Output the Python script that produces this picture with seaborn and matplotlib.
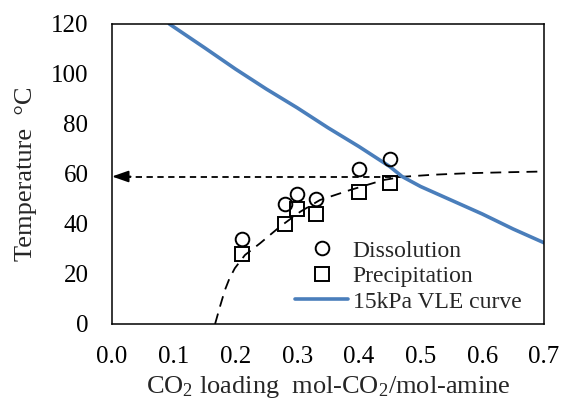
import matplotlib
matplotlib.use("Agg")
import matplotlib.pyplot as plt
import seaborn as sns
import pandas as pd

# ---- data ----
loading_pts = [0.21, 0.28, 0.30, 0.33, 0.40, 0.45]
dissolution_T = [34, 48, 52, 50, 62, 66]
precipitation_T = [28, 40, 46, 44, 53, 56.5]

vle_x = [0.093, 0.15, 0.20, 0.25, 0.30, 0.35, 0.40, 0.45, 0.47, 0.50, 0.55, 0.60, 0.65, 0.70]
vle_T = [120, 110.5, 102, 94, 86.5, 78.5, 71, 63, 59, 55, 49.5, 44, 38, 32.5]

fit_x = [0.167, 0.175, 0.183, 0.19, 0.199, 0.2155, 0.24, 0.272, 0.305, 0.337, 0.386, 0.44, 0.472, 0.52, 0.575, 0.64, 0.70]
fit_T = [0, 7, 13.6, 18, 22.3, 27.6, 32.3, 38.9, 44.9, 49.6, 53.6, 57.6, 58.9, 59.7, 60.3, 60.7, 61]

arrow_x = [0.47, 0.0]
arrow_T = 59

xticks = [0.0, 0.1, 0.2, 0.3, 0.4, 0.5, 0.6, 0.7]
yticks = [0, 20, 40, 60, 80, 100, 120]

sns.set_theme(style="white")
plt.rcParams['font.family'] = ['Liberation Serif', 'DejaVu Serif']
plt.rcParams['mathtext.fontset'] = 'custom'
plt.rcParams['mathtext.rm'] = 'Liberation Serif'
plt.rcParams['mathtext.it'] = 'Liberation Serif:italic'

fig = plt.figure(figsize=(5.63, 4.03), dpi=100)
ax = fig.add_axes([112/563, 1-324/403, 432/563, 300/403])

pts = pd.DataFrame({"x": loading_pts, "d": dissolution_T, "p": precipitation_T})
vle = pd.DataFrame({"x": vle_x, "T": vle_T})
fit = pd.DataFrame({"x": fit_x, "T": fit_T})

# fitted dashed curve
sns.lineplot(data=fit, x="x", y="T", ax=ax, color="black", lw=1.3, sort=False,
             legend=False)
ax.lines[-1].set_dashes([6, 4])

# horizontal arrow
ax.plot([arrow_x[0], arrow_x[1] + 0.02], [arrow_T, arrow_T], color="black", lw=1.3,
        dashes=[3.5, 2.5])
ax.annotate("", xy=(arrow_x[1], arrow_T), xytext=(arrow_x[1] + 0.03, arrow_T),
            arrowprops=dict(arrowstyle="-|>,head_length=1.0,head_width=0.35",
                            mutation_scale=10, color="black", lw=1.3,
                            shrinkA=0, shrinkB=0),
            annotation_clip=False)

# VLE curve
sns.lineplot(data=vle, x="x", y="T", ax=ax, color="#4A7EBB", lw=2.6, sort=False,
             label="15kPa VLE curve")

# markers
ax.plot(pts["x"], pts["d"], "o", ms=9.8, mfc="none", mec="black", mew=1.4,
        label="Dissolution", ls="none")
ax.plot(pts["x"], pts["p"], "s", ms=9.8, mfc="none", mec="black", mew=1.4,
        label="Precipitation", ls="none")

ax.set_xlim(0, 0.7)
ax.set_ylim(0, 120)
ax.set_xticks(xticks)
ax.set_xticklabels([f"{v:.1f}" for v in xticks])
ax.set_yticks(yticks)
ax.tick_params(axis="both", direction="in", length=5, width=1, labelsize=18,
               colors="black")
ax.tick_params(axis="x", pad=16)
ax.tick_params(axis="y", pad=17)
for s in ax.spines.values():
    s.set_color("black")
    s.set_linewidth(1.1)
    s.set_visible(True)

ax.set_xlabel("CO$_2$ loading  mol-CO$_2$/mol-amine", fontsize=19, labelpad=4)
ax.set_ylabel("Temperature  °C", fontsize=19, labelpad=10)

h, l = ax.get_legend_handles_labels()
order = [l.index("Dissolution"), l.index("Precipitation"), l.index("15kPa VLE curve")]
ax.legend([h[i] for i in order], [l[i] for i in order], loc="upper left",
          bbox_to_anchor=((295-112)/432, (324-240)/300), frameon=False, fontsize=17,
          borderpad=0, borderaxespad=0, handlelength=2.25, handletextpad=0.2,
          labelspacing=0.17)

fig.savefig("out.png", dpi=100)
